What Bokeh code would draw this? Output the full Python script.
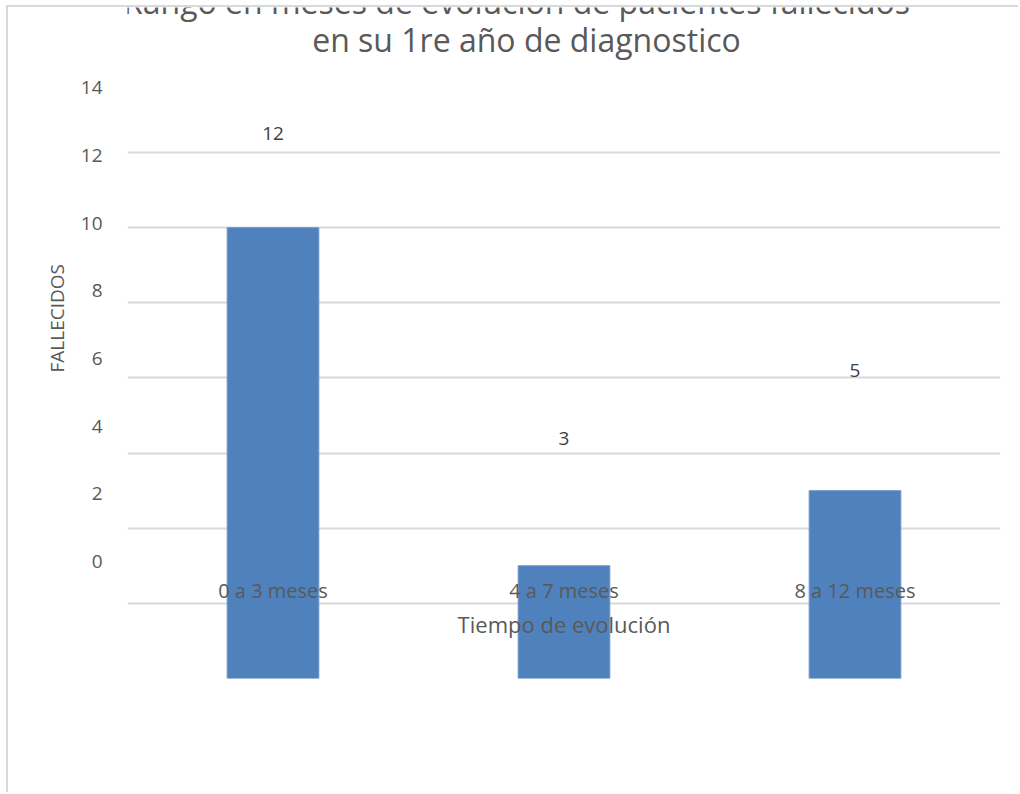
from bokeh.plotting import figure
from bokeh.models import Range1d, LinearAxis, FixedTicker, Label, Title, ColumnDataSource
from bokeh.core.properties import value
from bokeh.embed import file_html
from bokeh.resources import INLINE

categories = ["0 a 3 meses", "4 a 7 meses", "8 a 12 meses"]
fallecidos = [12, 3, 5]
tick_values = [0, 2, 4, 6, 8, 10, 12, 14]
title_lines = ["Rango en meses de evolución de pacientes fallecidos", "en su 1re año de diagnostico"]
x_title = "Tiempo de evolución"
y_title = "FALLECIDOS"

FONT = "Open Sans"
GRAY = "#595959"

p = figure(width=1012, height=787, x_range=categories, y_range=Range1d(0, 17.86),
           output_backend="svg", toolbar_location=None,
           min_border_left=119, min_border_right=20, min_border_top=0, min_border_bottom=116)
p.margin = (5, 0, 0, 6)
p.styles = {"border-left": "2px solid #d9d9d9", "border-top": "2px solid #d9d9d9"}
p.outline_line_color = None
p.background_fill_color = "white"
p.border_fill_color = "white"

# hidden main axes
p.xaxis.visible = False
p.yaxis.visible = False
p.xgrid.visible = False
p.ygrid.ticker = FixedTicker(ticks=tick_values)
p.ygrid.grid_line_color = "#d9d9d9"
p.ygrid.grid_line_width = 2

# shifted label scale (as in the reference)
p.extra_y_ranges = {"lab": Range1d(-3.46, 16.38)}
ax = LinearAxis(y_range_name="lab", ticker=FixedTicker(ticks=tick_values))
ax.axis_line_color = None
ax.major_tick_line_color = None
ax.minor_tick_line_color = None
ax.major_label_standoff = 19
ax.major_label_text_font = FONT
ax.major_label_text_font_size = "19px"
ax.major_label_text_color = GRAY
p.add_layout(ax, "left")

p.add_layout(Title(text=y_title, align="left", offset=306, standoff=16,
                   text_font=FONT, text_font_size="19px", text_font_style="normal",
                   text_color=GRAY), "left")

src = ColumnDataSource(dict(cat=categories, val=fallecidos, txt=[str(v) for v in fallecidos]))
p.vbar(x="cat", top="val", width=0.315, bottom=0, source=src,
       fill_color="#4f81bd", line_color="#7097c8", line_width=1)

p.text(x="cat", y="val", text="txt", source=src, y_range_name="lab", y_offset=-22,
       text_font=value(FONT), text_font_size="19px", text_color="#404040",
       text_align="center", text_baseline="middle")

cat_src = ColumnDataSource(dict(cat=categories, y=[-0.86] * 3))
p.text(x="cat", y="y", text="cat", source=cat_src, y_range_name="lab",
       text_font=value(FONT), text_font_size="20px", text_color=GRAY,
       text_align="center", text_baseline="middle")

p.text(x=[categories[1]], y=[-1.86], text=[x_title], y_range_name="lab",
       text_font=value(FONT), text_font_size="22px", text_color=GRAY,
       text_align="center", text_baseline="middle")

# title (first line partly cut at the top, as in the reference)
p.add_layout(Label(x=516 - 127, y=678 - 1, x_units="screen", y_units="screen",
                   text=title_lines[0], text_font=FONT, text_font_size="32px",
                   text_color=GRAY, text_align="center", text_baseline="alphabetic"))
p.add_layout(Label(x=526 - 127, y=678 - 39, x_units="screen", y_units="screen",
                   text=title_lines[1], text_font=FONT, text_font_size="32px",
                   text_color=GRAY, text_align="center", text_baseline="alphabetic"))

open("out.html", "w").write(file_html(p, INLINE))
